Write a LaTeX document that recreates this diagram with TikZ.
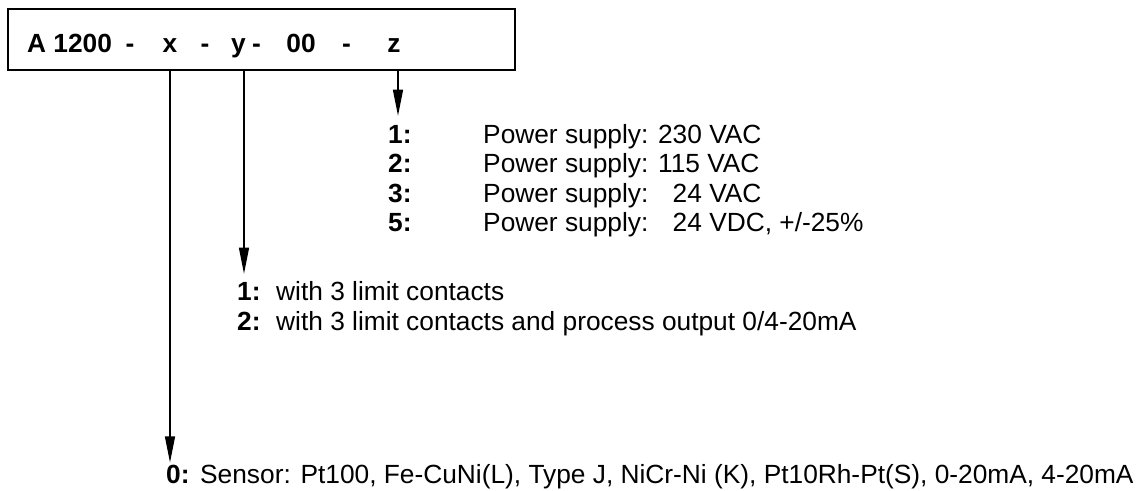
\documentclass[tikz,border=0pt]{standalone}
\usepackage{fontspec}
\setmainfont{Liberation Sans}
\usetikzlibrary{arrows.meta}
\newcommand{\listfont}{\fontsize{26.3}{30}\selectfont}
\tikzset{
  >={Triangle[length=26pt,width=10pt]},
  codebox/.style={draw=black, line width=1.8pt, anchor=north west, inner sep=0pt,
                  minimum width=507pt, minimum height=61pt},
  codepart/.style={font=\listfont\bfseries, anchor=base, inner sep=0pt},
  optkey/.style={font=\listfont\bfseries, anchor=base west, inner sep=0pt},
  opttext/.style={font=\listfont, anchor=base west, inner sep=0pt},
  sel/.style={->, black, line width=1.3pt},
}

\begin{document}
\begin{tikzpicture}[x=1pt,y=-1pt]
  \useasboundingbox (0,0) rectangle (1147,490);

  % order code
  \node[codebox] (code) at (7,8) {};
  \node[codepart, anchor=base west] (cbase) at (27,52) {A 1200};
  \node[codepart] (d1) at (130,52) {-};
  \node[codepart] (cx) at (170,52) {x};
  \node[codepart] (d2) at (205,52) {-};
  \node[codepart] (cy) at (238.5,52) {y};
  \node[codepart] (d3) at (256.5,52) {-};
  \node[codepart] (czero) at (301,52) {00};
  \node[codepart] (d4) at (346.5,52) {-};
  \node[codepart] (cz) at (394,52) {z};

  \coordinate (tapx) at (170,69);
  \coordinate (tapy) at (244,69);
  \coordinate (tapz) at (398,69);

  % z: power supply
  \node[optkey]  (z1) at (388,143)   {1:};
  \node[opttext] (tz1) at (483,143)  {Power supply: 230 VAC};
  \node[optkey]  (z2) at (388,172.5) {2:};
  \node[opttext] (tz2) at (483,172.5){Power supply: 115 VAC};
  \node[optkey]  (z3) at (388,202)   {3:};
  \node[opttext] (tz3) at (483,202)  {Power supply: \hphantom{2}24 VAC};
  \node[optkey]  (z5) at (388,231.5) {5:};
  \node[opttext] (tz5) at (483,231.5){Power supply: \hphantom{2}24 VDC, +/-25\%};

  % y: outputs
  \node[optkey]  (y1) at (237,300)  {1:};
  \node[opttext] (ty1) at (276,300) {with 3 limit contacts};
  \node[optkey]  (y2) at (237,330)  {2:};
  \node[opttext] (ty2) at (276,330) {with 3 limit contacts and process output 0/4-20mA};

  % x: sensor
  \node[optkey]  (x0) at (166,483)  {0:};
  \node[opttext] (tx0) at (200,483) {Sensor: Pt100, Fe-CuNi(L), Type J, NiCr-Ni (K), Pt10Rh-Pt(S), 0-20mA, 4-20mA};

  \draw[sel, shorten >=9pt] (tapz) -- (tapz |- z1.north);
  \draw[sel, shorten >=8pt] (tapy) -- (tapy |- y1.north);
  \draw[sel, shorten >=2pt] (tapx) -- (tapx |- x0.north);

\end{tikzpicture}
\end{document}
